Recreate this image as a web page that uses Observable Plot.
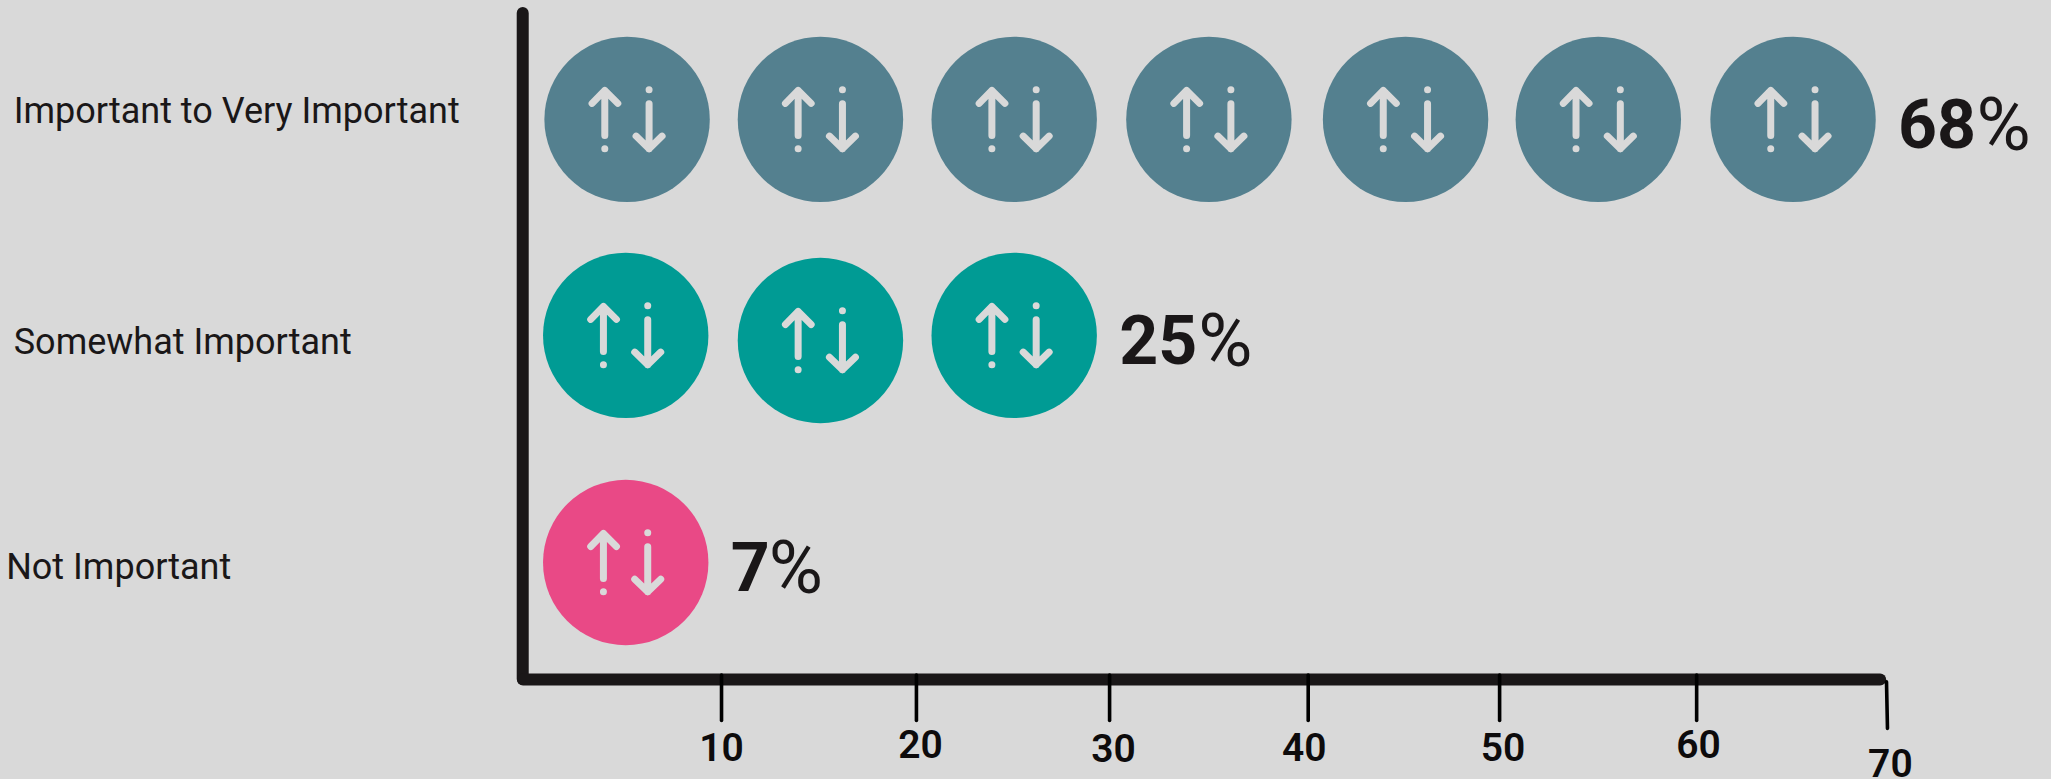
<!DOCTYPE html>
<html>
<head>
<meta charset="utf-8">
<script src="https://cdn.jsdelivr.net/npm/d3@7"></script>
<script src="https://cdn.jsdelivr.net/npm/@observablehq/plot@0.6"></script>
<style>
html,body{margin:0;padding:0;background:#d9d9d9;overflow:hidden}
svg{display:block}
</style>
</head>
<body>
<div id="chart"></div>
<script>
const categories = ["Important to Very Important", "Somewhat Important", "Not Important"];
const values = [68, 25, 7];
const colors = ["#54808f", "#009b94", "#e94986"];
const iconX = [
  [5.32, 15.25, 25.2, 35.2, 45.3, 55.2, 65.2],
  [5.25, 15.25, 25.2],
  [5.25]
];
const iconY = [
  [0.477, 0.477, 0.477, 0.477, 0.477, 0.477, 0.477],
  [1.45, 1.473, 1.45],
  [2.473]
];
const labelX = [-26.18, -26.18, -26.57];
const labelY = [0.44, 1.48, 2.495];
const percentX = [74.62, 34.65, 12.6];
const tickLabels = [10, 20, 30, 40, 50, 60, 70];
const tickX = [10.17, 20.18, 30.1, 40.3, 50.13, 60.25, 70];
const tickLabelX = [10.17, 20.39, 30.3, 40.1, 50.3, 60.35, 70.2];
const tickLabelY = [3.31, 3.297, 3.315, 3.31, 3.31, 3.297, 3.383];
const tickEnd = [3.185, 3.185, 3.185, 3.185, 3.185, 3.185, 3.22];

const icons = categories.flatMap((c, i) =>
  iconX[i].map((x, j) => ({category: c, x, y: iconY[i][j], color: colors[i]})));
const ends = categories.map((c, i) => ({
  value: values[i],
  x: iconX[i][iconX[i].length - 1],
  px: percentX[i],
  y: iconY[i][0]
}));
const labels = categories.map((c, i) => ({c, x: labelX[i], y: labelY[i]}));
const ticks = tickLabels.map((t, i) => ({
  t, x: tickX[i], end: tickEnd[i], lx: tickLabelX[i], ly: tickLabelY[i]
}));

const glyph = {
  draw(ctx, size) {
    const k = Math.sqrt(size / Math.PI) / 82.7;
    const seg = pts => {
      pts.forEach(([x, y], i) => i ? ctx.lineTo(x * k, y * k) : ctx.moveTo(x * k, y * k));
    };
    seg([[-22.3, 16], [-22.3, -29]]);
    seg([[-35, -16], [-22.3, -29], [-9.3, -16]]);
    seg([[-22.3, 29.3], [-22.3, 29.31]]);
    seg([[22, -15.7], [22, 29.3]]);
    seg([[9, 16.7], [22, 29.3], [35, 16.7]]);
    seg([[22, -29.7], [22, -29.69]]);
  }
};

const ink = "#1a1718";
const font = "Roboto, sans-serif";
const plot = Plot.plot({
  width: 2051,
  height: 779,
  margin: 0,
  style: {background: "#d9d9d9", fontFamily: font},
  x: {domain: [0, 70], range: [523, 1886], axis: null},
  y: {domain: [0, 3], range: [13, 679], axis: null},
  marks: [
    Plot.ruleX([-0.04], {y1: 0, y2: 3, stroke: ink, strokeWidth: 12, strokeLinecap: "round"}),
    Plot.ruleY([3], {x1: 0, x2: 69.7, stroke: ink, strokeWidth: 12, strokeLinecap: "round"}),
    Plot.link(ticks, {
      x1: "x", x2: d => d.t === 70 ? 70.05 : d.x,
      y1: d => d.t === 70 ? 3.01 : 2.98, y2: "end",
      stroke: "#000", strokeWidth: 3.6, strokeLinecap: "round"
    }),
    Plot.dot(icons, {x: "x", y: "y", r: 82.7, fill: "color", stroke: null}),
    Plot.dot(icons, {
      x: "x", y: "y", r: 82.7, symbol: glyph, fill: "none",
      stroke: "#d9d9d9", strokeWidth: 7, strokeLinecap: "round", strokeLinejoin: "round"
    }),
    Plot.text(labels, {
      x: "x", y: "y", text: "c", textAnchor: "start", fill: ink,
      fontSize: 36, fontWeight: 400, fontFamily: font,
      style: {letterSpacing: "2px"}
    }),
    Plot.text(ticks, {
      x: "lx", y: "ly", text: d => String(d.t), fill: "#0d0b0c",
      fontSize: 39, fontWeight: 600, fontFamily: font,
      style: {letterSpacing: "-1px"}
    }),
    Plot.text(ends, {
      x: "x", y: "y", dx: 105, dy: 7, text: d => String(d.value), textAnchor: "start",
      fill: ink, fontSize: 68, fontWeight: 700, fontFamily: font,
      style: {letterSpacing: "-3px"}
    }),
    Plot.text(ends, {
      x: "px", y: "y", dy: 7, text: () => "%", textAnchor: "start", fill: ink,
      fontSize: 74, fontWeight: 400, fontFamily: font
    })
  ]
});
document.getElementById("chart").appendChild(plot);
</script>
</body>
</html>
